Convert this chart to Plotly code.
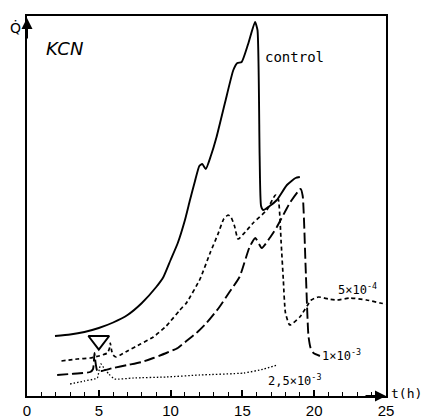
import plotly.graph_objects as go

# time axis (h) and heat-flow values (arbitrary units)
control_t = [1.95, 3.0, 4.0, 5.0, 6.0, 7.0, 8.0, 9.0, 9.5, 10.0, 10.5, 11.0, 11.35, 11.7, 12.0, 12.2, 12.45,
             12.8, 13.2, 13.8, 14.37, 14.65, 14.95, 15.4, 15.88, 16.05, 16.2, 16.3, 16.45, 16.9, 17.4, 18.1, 18.7, 19.0]
control_q = [60, 61.5, 64, 68, 73.5, 81, 93, 109, 119, 136, 153, 176, 196, 215, 230, 232, 227,
             240, 259, 294, 326, 333, 334, 352, 374, 366, 240, 190, 186, 190, 196, 211, 218, 219]

c5e4_t = [2.4, 3.5, 4.4, 5.0, 5.6, 5.75, 5.8, 5.9, 6.0, 6.2, 6.5, 7.0, 7.9, 8.8, 9.7, 10.65, 11.1, 12.05,
          12.75, 13.3, 13.7, 14.0, 14.2, 14.45, 14.7, 15.2, 15.75, 16.7, 17.3, 17.5, 17.7, 17.85, 18.0, 18.3,
          19.0, 19.8, 20.3, 21.0, 21.6, 22.5, 23.65, 24.6, 25.0]
c5e4_q = [35, 37, 38, 40, 43, 48, 53, 45, 41, 39, 41, 45, 52, 59, 70, 86, 93, 117,
          143, 162, 177, 181, 179, 170, 157, 164, 173, 186, 201, 197, 153, 116, 83, 71,
          79, 96, 99, 97, 96, 98, 96, 93, 92]

c1e3_t = [2.1, 3.0, 3.9, 4.4, 4.6, 4.7, 4.75, 4.9, 5.2, 6.0, 7.0, 8.0, 8.8, 9.7, 10.5, 11.1, 11.8, 12.5,
          13.4, 14.1, 14.8, 15.5, 15.9, 16.35, 16.9, 17.4, 18.3, 19.05, 19.2, 19.4, 19.6, 19.75, 19.95, 20.4]
c1e3_q = [21, 22, 23, 24, 27, 43, 36, 25, 25, 28, 31, 34, 38, 43, 48, 55, 63, 73,
          89, 104, 119, 149, 158, 148, 158, 169, 193, 207, 200, 130, 60, 48, 43, 40]

c25e3_t = [3.0, 4.0, 4.7, 4.9, 5.05, 5.15, 5.4, 5.7, 6.1, 7.4, 9.7, 12.0, 15.1, 16.5, 17.45]
c25e3_q = [12, 15, 17, 18, 28, 32, 27, 22, 17, 18, 19, 21, 23, 27, 31]

inject_t = [5.0]
inject_q = [55.5]

label_text = ["control", "5×10<sup>-4</sup>", "1×10<sup>-3</sup>", "2,5×10<sup>-3</sup>"]
label_t = [18.6, 23.0, 21.9, 18.6]
label_q = [339, 107, 41, 16]

x_ticks = [0, 5, 10, 15, 20, 25]

fig = go.Figure()
fig.add_trace(go.Scatter(x=control_t, y=control_q, mode="lines",
                         line=dict(color="black", width=1.9, shape="spline", smoothing=0.5)))
fig.add_trace(go.Scatter(x=c5e4_t, y=c5e4_q, mode="lines",
                         line=dict(color="black", width=1.7, dash="4px,3px", shape="spline", smoothing=0.5)))
fig.add_trace(go.Scatter(x=c1e3_t, y=c1e3_q, mode="lines",
                         line=dict(color="black", width=1.9, dash="11px,4px", shape="spline", smoothing=0.5)))
fig.add_trace(go.Scatter(x=c25e3_t, y=c25e3_q, mode="lines",
                         line=dict(color="black", width=1.3, dash="1.5px,2px", shape="spline", smoothing=0.5)))
fig.add_trace(go.Scatter(x=inject_t, y=inject_q, mode="markers",
                         marker=dict(symbol="triangle-down-open", size=18, color="black",
                                     line=dict(color="black", width=2))))

for txt, t, q in zip(label_text, label_t, label_q):
    fig.add_annotation(x=t, y=q, text=txt, showarrow=False,
                       font=dict(family="DejaVu Sans Mono", size=14 if txt == "control" else 12, color="black"))

fig.add_annotation(x=2.6, y=348, xref="x", yref="y", text="<i>KCN</i>", showarrow=False,
                   font=dict(family="DejaVu Sans", size=18, color="black"))
fig.add_annotation(x=0, y=368, xref="x", yref="y", text="Q̇", showarrow=False,
                   xanchor="right", xshift=-4,
                   font=dict(family="DejaVu Sans", size=14, color="black"))
fig.add_annotation(x=25, y=0, xref="x", yref="y", text="t(h)", showarrow=False,
                   xanchor="left", xshift=3, yshift=3,
                   font=dict(family="DejaVu Sans Mono", size=13, color="black"))
# axis arrows
fig.add_annotation(x=25, y=0, xref="x", yref="y", ax=-22, ay=0, text="", showarrow=True,
                   arrowhead=2, arrowsize=1.1, arrowwidth=2, arrowcolor="black")
fig.add_annotation(x=0, y=378, xref="x", yref="y", ax=0, ay=22, text="", showarrow=True,
                   arrowhead=2, arrowsize=1.1, arrowwidth=2, arrowcolor="black")

fig.update_layout(
    width=422, height=419,
    margin=dict(l=27, r=36, t=16, b=23),
    paper_bgcolor="white", plot_bgcolor="white",
    showlegend=False,
    xaxis=dict(range=[0, 25], tickvals=x_ticks, ticks="inside", ticklen=6, tickwidth=1.5,
               tickcolor="black", showline=True, linecolor="black", linewidth=2, mirror=True,
               showgrid=False, zeroline=False, automargin=False,
               minor=dict(dtick=1, ticks="inside", ticklen=4, tickwidth=1.2, tickcolor="black"),
               tickfont=dict(family="Liberation Sans", size=15, color="black")),
    yaxis=dict(range=[0, 380], showticklabels=False, ticks="", showline=True, linecolor="black",
               linewidth=2, mirror=True, showgrid=False, zeroline=False, automargin=False),
)

fig.write_html("out.html")
